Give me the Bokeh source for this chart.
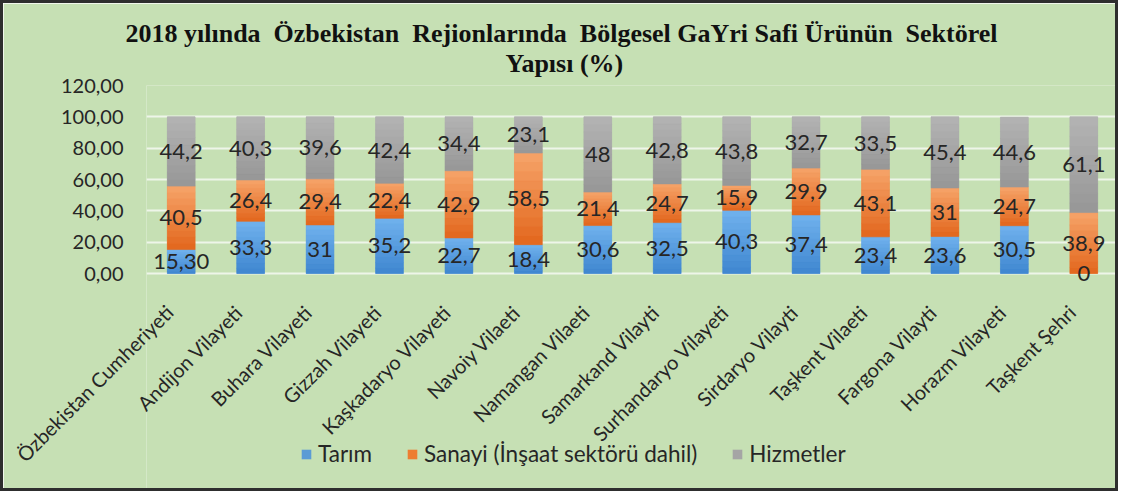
from bokeh.plotting import figure
from bokeh.models import (ColumnDataSource, FactorRange, Range1d, Legend,
                          LegendItem, Title, CustomJSTickFormatter, FixedTicker)
from bokeh.core.properties import value
from bokeh.embed import file_html
from bokeh.resources import INLINE
import math

regions = ["Özbekistan Cumheriyeti", "Andijon Vilayeti", "Buhara Vilayeti", "Gizzah Vilayeti",
           "Kaşkadaryo Vilayeti", "Navoiy Vilaeti", "Namangan Vilaeti", "Samarkand Vilayti",
           "Surhandaryo Vilayeti", "Sirdaryo Vilayti", "Taşkent Vilaeti", "Fargona Vilayti",
           "Horazm Vilayeti", "Taşkent Şehri"]
tarim = [15.30, 33.3, 31, 35.2, 22.7, 18.4, 30.6, 32.5, 40.3, 37.4, 23.4, 23.6, 30.5, 0]
sanayi = [40.5, 26.4, 29.4, 22.4, 42.9, 58.5, 21.4, 24.7, 15.9, 29.9, 43.1, 31, 24.7, 38.9]
hizmetler = [44.2, 40.3, 39.6, 42.4, 34.4, 23.1, 48, 42.8, 43.8, 32.7, 33.5, 45.4, 44.6, 61.1]
tarim_text = ["15,30", "33,3", "31", "35,2", "22,7", "18,4", "30,6", "32,5", "40,3", "37,4",
              "23,4", "23,6", "30,5", "0"]
series_names = ["Tarım", "Sanayi (İnşaat sektörü dahil)", "Hizmetler"]
y_ticks = [0, 20, 40, 60, 80, 100, 120]
title_line1 = "2018 yılında\u00a0 Özbekistan\u00a0 Rejionlarında\u00a0 Bölgesel GaYri Safi Ürünün\u00a0 Sektörel"
title_line2 = "Yapısı (%)"

BG = "#c6e0b4"
COLORS = ["#5b9bd5", "#ed7d31", "#a5a5a5"]
# (top, bottom) shades for the vertical gradient of each series
SHADES = [("#70b2ee", "#3f86cf"), ("#f6a46a", "#e2661c"), ("#b3b3b3", "#979797")]
N_SHADE = 10
TXT = "#262626"
FONT = "Lato"

# layout in canvas pixels: the plot frame runs from the 120 line down to the canvas bottom,
# so that the legend sits inside it; y value 0 lies at Y0_PX
W, H = 1118, 491
TOP, Y0_PX = 82, 270
PPU = (Y0_PX - TOP) / 120.0
Y_START = -(H - Y0_PX) / PPU


def fmt(v):
    return ("%g" % v).replace(".", ",")


def mix(c1, c2, t):
    a = [int(c1[i:i + 2], 16) for i in (1, 3, 5)]
    b = [int(c2[i:i + 2], 16) for i in (1, 3, 5)]
    return "#%02x%02x%02x" % tuple(round(x + (y - x) * t) for x, y in zip(a, b))


b2 = [a + b for a, b in zip(tarim, sanayi)]
src = ColumnDataSource(dict(
    region=regions, tarim=tarim, sanayi=sanayi, hizmetler=hizmetler,
    y1=[v / 2 for v in tarim],
    y2=[a + v / 2 for a, v in zip(tarim, sanayi)],
    y3=[a + v / 2 for a, v in zip(b2, hizmetler)],
    t1=tarim_text, t2=[fmt(v) for v in sanayi], t3=[fmt(v) for v in hizmetler],
    base=[0] * len(regions),
))

p = figure(x_range=FactorRange(*regions, range_padding=0), y_range=Range1d(Y_START, 120),
           width=W, height=H, output_backend="svg", toolbar_location=None,
           x_axis_location=None,
           min_border_left=143, min_border_right=3, min_border_top=TOP, min_border_bottom=0,
           background_fill_color=BG, border_fill_color=BG, outline_line_color=None)
p.title.visible = False
p.styles = {"border": "3px solid #2e2e2e"}

renderers = p.vbar_stack(["tarim", "sanayi", "hizmetler"], x="region", width=0.4,
                         color=COLORS, line_color=None, source=src)

# gradient shading drawn over each stacked segment (lighter at top, darker at bottom)
bases = [[0] * len(regions), tarim, b2]
for vals, base, (light, dark) in zip((tarim, sanayi, hizmetler), bases, SHADES):
    xs, bots, tops, cols = [], [], [], []
    for r, v, b in zip(regions, vals, base):
        if v <= 0:
            continue
        for k in range(N_SHADE):
            xs.append(r)
            bots.append(b + v * k / N_SHADE)
            tops.append(b + v * (k + 1) / N_SHADE)
            cols.append(mix(dark, light, (k + 0.5) / N_SHADE))
    p.vbar(x=xs, bottom=bots, top=tops, width=0.4, fill_color=cols, line_color=cols,
           line_width=0.6)

# value labels in the middle of each segment
for ycol, tcol in (("y1", "t1"), ("y2", "t2"), ("y3", "t3")):
    p.text(x="region", y=ycol, text=tcol, source=src, text_align="center",
           text_baseline="middle", text_font=value(FONT), text_font_size="22px",
           text_color=TXT, level="overlay")

# category labels, rotated 45 degrees, ending just below each bar
p.text(x="region", y="base", text="region", source=src, angle=math.pi / 4,
       text_align="right", text_baseline="middle", x_offset=-12, y_offset=35,
       text_font=value(FONT), text_font_size="20px", text_color=TXT, level="overlay")

yax = p.yaxis[0]
yax.ticker = FixedTicker(ticks=y_ticks)
yax.formatter = CustomJSTickFormatter(code="return tick.toFixed(2).replace('.', ',');")
yax.axis_line_color = None
yax.major_tick_line_color = None
yax.minor_tick_line_color = None
yax.major_tick_out = 0
yax.major_tick_in = 0
yax.major_label_text_font = FONT
yax.major_label_text_font_size = "20px"
yax.major_label_text_color = TXT
yax.major_label_standoff = 23

p.xgrid.grid_line_color = None
p.ygrid.ticker = FixedTicker(ticks=y_ticks)
p.ygrid.grid_line_color = "#eef5e9"
p.ygrid.grid_line_width = 2

legend = Legend(items=[LegendItem(label=n, renderers=[r]) for n, r in zip(series_names, renderers)],
                location=(154, 27), orientation="horizontal", background_fill_alpha=0,
                border_line_color=None, padding=0, margin=0, spacing=34, label_standoff=6,
                glyph_width=12, glyph_height=12, label_text_font=FONT,
                label_text_font_size="22.5px", label_text_color=TXT)
p.add_layout(legend)

t2 = Title(text=title_line2, align="left", offset=359, text_font="Liberation Serif",
           text_font_size="26px", text_font_style="bold", text_color="#111111", standoff=16)
t1 = Title(text=title_line1, align="left", offset=-21, text_font="Liberation Serif",
           text_font_size="26px", text_font_style="bold", text_color="#111111", standoff=-18)
p.add_layout(t2, "above")
p.add_layout(t1, "above")

open("out.html", "w").write(file_html(p, INLINE))
